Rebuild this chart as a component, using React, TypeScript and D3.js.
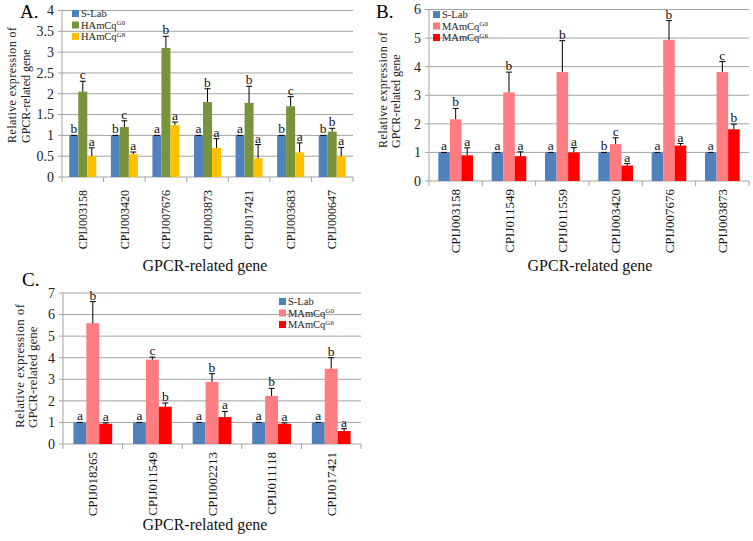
import * as d3 from 'd3';

const FONT = '"Liberation Serif", "Times New Roman", serif';
const GRID = '#a3a3a3';

const BLUE = '#4f81bd';
const GREEN = '#77933c';
const YELLOW = '#ffc000';
const PINK = '#ff7c80';
const RED = '#ff0000';

// Panel A
const genesA = ['CPIJ003158', 'CPIJ003420', 'CPIJ007676', 'CPIJ003873', 'CPIJ017421', 'CPIJ003683', 'CPIJ000647'];
const slabA = [1, 1, 1, 1, 1, 1, 1];
const slabAErr = [0, 0, 0, 0, 0, 0, 0];
const slabALetters = ['b', 'b', 'a', 'a', 'a', 'b', 'b'];
const g0A = [2.05, 1.2, 3.1, 1.8, 1.78, 1.7, 1.09];
const g0AErr = [0.25, 0.15, 0.28, 0.32, 0.4, 0.23, 0.08];
const g0ALetters = ['c', 'c', 'b', 'b', 'b', 'c', 'b'];
const g8A = [0.5, 0.55, 1.25, 0.7, 0.45, 0.59, 0.5];
const g8AErr = [0.2, 0.05, 0.07, 0.22, 0.33, 0.23, 0.21];
const g8ALetters = ['a', 'a', 'a', 'a', 'a', 'a', 'a'];

// Panel B
const genesB = ['CPIJ003158', 'CPIJ011549', 'CPIJ011559', 'CPIJ003420', 'CPIJ007676', 'CPIJ003873'];
const slabB = [1, 1, 1, 1, 1, 1];
const slabBErr = [0, 0, 0, 0, 0, 0];
const slabBLetters = ['a', 'a', 'a', 'b', 'a', 'a'];
const g0B = [2.16, 3.1, 3.81, 1.29, 4.94, 3.81];
const g0BErr = [0.38, 0.71, 1.1, 0.22, 0.67, 0.37];
const g0BLetters = ['b', 'b', 'b', 'c', 'b', 'c'];
const g6B = [0.9, 0.87, 1.0, 0.54, 1.24, 1.81];
const g6BErr = [0.26, 0.15, 0.17, 0.07, 0.07, 0.18];
const g6BLetters = ['a', 'a', 'a', 'a', 'a', 'b'];

// Panel C
const genesC = ['CPIJ018265', 'CPIJ011549', 'CPIJ002213', 'CPIJ011118', 'CPIJ017421'];
const slabC = [1, 1, 1, 1, 1];
const slabCErr = [0, 0, 0, 0, 0];
const slabCLetters = ['a', 'a', 'a', 'a', 'a'];
const g0C = [5.6, 3.91, 2.88, 2.23, 3.49];
const g0CErr = [1.0, 0.12, 0.38, 0.35, 0.51];
const g0CLetters = ['b', 'c', 'b', 'b', 'b'];
const g6C = [0.94, 1.73, 1.25, 0.94, 0.6];
const g6CErr = [0.04, 0.17, 0.26, 0.04, 0.11];
const g6CLetters = ['a', 'b', 'a', 'a', 'a'];

type Series = {
  key: string;
  name: string;
  sup?: string;
  color: string;
  values: number[];
  errs: number[];
  letters: string[];
};

type PanelProps = {
  title: string;
  titleX: number;
  titleY: number;
  genes: string[];
  series: Series[];
  yMax: number;
  yStep: number;
  left: number;
  right: number;
  bottom: number;
  top: number;
  catFont: number;
  catGap: number;
  yLab: { x1: number; x2: number; y: number; len: number; size: number };
  legend: { x: number; y: number; step: number };
  xLabel: { x: number; y: number };
};

function Panel(props: PanelProps) {
  const { genes, series, yMax, yStep, left, right, bottom, top } = props;
  const y = d3.scaleLinear().domain([0, yMax]).range([bottom, top]);
  const x0 = d3.scaleBand<string>().domain(genes).range([left, right]).paddingInner(0.35).paddingOuter(0.175);
  const x1 = d3.scaleBand<string>().domain(series.map((s) => s.key)).range([0, x0.bandwidth()]);
  const ticks = d3.range(0, yMax + yStep / 2, yStep);
  const step = x0.step();
  const bounds = d3.range(genes.length + 1).map((i) => left + i * step);

  return (
    <g fontFamily={FONT}>
      <text x={props.titleX} y={props.titleY} fontSize={19}>{props.title}</text>

      {/* grid + y axis */}
      {ticks.map((t) => (
        <g key={t}>
          {t > 0 && <line x1={left} x2={right} y1={y(t)} y2={y(t)} stroke={GRID} strokeWidth={1} />}
          <line x1={left - 4} x2={left} y1={y(t)} y2={y(t)} stroke={GRID} />
          <text x={left - 8} y={y(t)} dy="0.35em" textAnchor="end" fontSize={14} fill="#222">
            {String(+t.toFixed(1))}
          </text>
        </g>
      ))}
      <line x1={left} x2={left} y1={top} y2={bottom} stroke={GRID} />
      <line x1={left} x2={right} y1={bottom} y2={bottom} stroke={GRID} />
      {bounds.map((b, i) => (
        <line key={i} x1={b} x2={b} y1={bottom} y2={bottom + 5} stroke={GRID} />
      ))}

      {/* bars */}
      {genes.map((gname, gi) => (
        <g key={gname} transform={`translate(${x0(gname)},0)`}>
          {series.map((s) => {
            const bx = x1(s.key)!;
            const bw = x1.bandwidth();
            const v = s.values[gi];
            const e = s.errs[gi];
            const cx = bx + bw / 2;
            return (
              <g key={s.key}>
                <rect x={bx} y={y(v)} width={bw} height={bottom - y(v)} fill={s.color} />
                <line x1={cx} x2={cx} y1={y(v)} y2={y(v + e)} stroke="#000" strokeWidth={1} />
                <line x1={cx - 3} x2={cx + 3} y1={y(v + e)} y2={y(v + e)} stroke="#000" strokeWidth={1} />
                <text x={cx} y={y(v + e) - 2} textAnchor="middle" fontSize={13.5} fill="#111">
                  {s.letters[gi]}
                </text>
              </g>
            );
          })}
        </g>
      ))}

      {/* category labels */}
      {genes.map((gname) => {
        const cx = x0(gname)! + x0.bandwidth() / 2;
        const ty = bottom + props.catGap;
        return (
          <text
            key={gname}
            transform={`translate(${cx},${ty}) rotate(-90)`}
            textAnchor="end"
            dy="0.35em"
            fontSize={props.catFont}
            fill="#111"
          >
            {gname}
          </text>
        );
      })}

      {/* y label */}
      <g fontSize={props.yLab.size} fill="#222">
        <text
          transform={`translate(${props.yLab.x1},${props.yLab.y}) rotate(-90)`}
          textLength={props.yLab.len}
          lengthAdjust="spacing"
        >
          Relative expression of
        </text>
        <text transform={`translate(${props.yLab.x2},${props.yLab.y}) rotate(-90)`}>GPCR-related gene</text>
      </g>

      {/* x label */}
      <text x={props.xLabel.x} y={props.xLabel.y} textAnchor="middle" fontSize={16} fill="#111">
        GPCR-related gene
      </text>

      {/* legend */}
      {series.map((s, i) => {
        const ly = props.legend.y + i * props.legend.step;
        return (
          <g key={s.key}>
            <rect x={props.legend.x} y={ly - 7} width={7} height={7} fill={s.color} />
            <text x={props.legend.x + 9} y={ly} fontSize={10.5} fill="#222">
              {s.name}
              {s.sup && (
                <tspan dy={-3.5} fontSize={7}>
                  {s.sup}
                </tspan>
              )}
            </text>
          </g>
        );
      })}
    </g>
  );
}

export default function App() {
  const seriesA: Series[] = [
    { key: 'slab', name: 'S-Lab', color: BLUE, values: slabA, errs: slabAErr, letters: slabALetters },
    { key: 'g0', name: 'HAmCq', sup: 'G0', color: GREEN, values: g0A, errs: g0AErr, letters: g0ALetters },
    { key: 'g8', name: 'HAmCq', sup: 'G8', color: YELLOW, values: g8A, errs: g8AErr, letters: g8ALetters },
  ];
  const seriesB: Series[] = [
    { key: 'slab', name: 'S-Lab', color: BLUE, values: slabB, errs: slabBErr, letters: slabBLetters },
    { key: 'g0', name: 'MAmCq', sup: 'G0', color: PINK, values: g0B, errs: g0BErr, letters: g0BLetters },
    { key: 'g6', name: 'MAmCq', sup: 'G6', color: RED, values: g6B, errs: g6BErr, letters: g6BLetters },
  ];
  const seriesC: Series[] = [
    { key: 'slab', name: 'S-Lab', color: BLUE, values: slabC, errs: slabCErr, letters: slabCLetters },
    { key: 'g0', name: 'MAmCq', sup: 'G0', color: PINK, values: g0C, errs: g0CErr, letters: g0CLetters },
    { key: 'g6', name: 'MAmCq', sup: 'G6', color: RED, values: g6C, errs: g6CErr, letters: g6CLetters },
  ];

  return (
    <div style={{ position: 'absolute', left: 0, top: 0 }}>
      <svg width={753} height={541} style={{ display: 'block', background: '#fff' }}>
        <Panel
          title="A."
          titleX={20}
          titleY={18}
          genes={genesA}
          series={seriesA}
          yMax={4}
          yStep={0.5}
          left={62}
          right={353}
          bottom={177}
          top={10.5}
          catFont={12}
          catGap={13}
          yLab={{ x1: 16, x2: 30, y: 143, len: 116, size: 12 }}
          legend={{ x: 72, y: 17, step: 11.5 }}
          xLabel={{ x: 205, y: 271 }}
        />
        <Panel
          title="B."
          titleX={376}
          titleY={18}
          genes={genesB}
          series={seriesB}
          yMax={6}
          yStep={1}
          left={429}
          right={749}
          bottom={181}
          top={9.5}
          catFont={13}
          catGap={8}
          yLab={{ x1: 387, x2: 400, y: 148, len: 116, size: 12 }}
          legend={{ x: 433, y: 18, step: 11.5 }}
          xLabel={{ x: 590, y: 271 }}
        />
        <Panel
          title="C."
          titleX={22}
          titleY={286}
          genes={genesC}
          series={seriesC}
          yMax={7}
          yStep={1}
          left={63}
          right={361}
          bottom={444}
          top={293}
          catFont={13}
          catGap={8}
          yLab={{ x1: 24, x2: 37, y: 428, len: 124, size: 13 }}
          legend={{ x: 279, y: 305, step: 11.5 }}
          xLabel={{ x: 205, y: 530 }}
        />
      </svg>
    </div>
  );
}
